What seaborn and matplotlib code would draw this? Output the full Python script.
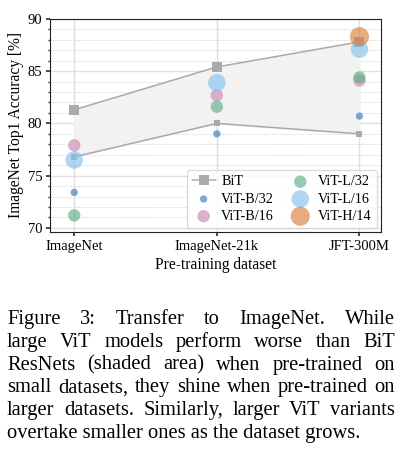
import matplotlib.pyplot as plt
import matplotlib.ticker as mticker
import pandas as pd
import seaborn as sns

datasets = ["ImageNet", "ImageNet-21k", "JFT-300M"]
bit_upper = [81.3, 85.4, 87.8]
bit_lower = [76.8, 80.0, 79.0]

models = ["ViT-B/32", "ViT-B/16", "ViT-L/32", "ViT-L/16", "ViT-H/14"]
vit_b32 = [73.4, 79.0, 80.7]
vit_b16 = [77.9, 82.7, 84.1]
vit_l32 = [71.2, 81.6, 84.4]
vit_l16 = [76.5, 83.9, 87.1]
vit_h14 = [None, None, 88.3]

colors = ["#3a7bbf", "#cc88b0", "#5fb085", "#86c1ee", "#d98040"]
sizes = [28, 80, 80, 160, 190]

caption = [
    "Figure 3:  Transfer to ImageNet.   While",
    "large ViT models perform worse than BiT",
    "ResNets (shaded area) when pre-trained on",
    "small datasets, they shine when pre-trained on",
    "larger datasets.  Similarly, larger ViT variants",
    "overtake smaller ones as the dataset grows.",
]

sns.set_theme(style="white")
plt.rcParams["font.family"] = ["Liberation Serif", "DejaVu Serif"]
for key in ["text.color", "axes.labelcolor", "xtick.color", "ytick.color"]:
    plt.rcParams[key] = "black"

rows = []
for m, vals in zip(models, [vit_b32, vit_b16, vit_l32, vit_l16, vit_h14]):
    for i, v in enumerate(vals):
        if v is not None:
            rows.append({"model": m, "x": i, "acc": v})
df = pd.DataFrame(rows)
bit = pd.DataFrame({"x": range(3), "upper": bit_upper, "lower": bit_lower})

fig = plt.figure(figsize=(4.03, 4.49), dpi=100)
ax = fig.add_axes([0.124, 0.483, 0.821, 0.475])

ax.fill_between(bit["x"], bit["lower"], bit["upper"], color="#f2f2f2", zorder=1)
sns.lineplot(data=bit, x="x", y="upper", ax=ax, color="#aaaaaa", marker="s",
             markersize=7, markeredgewidth=0, linewidth=1.1, label="BiT", zorder=3)
sns.lineplot(data=bit, x="x", y="lower", ax=ax, color="#aaaaaa", marker="s",
             markersize=5, markeredgewidth=0, linewidth=1.1, zorder=3)

for m, c, s in zip(models, colors, sizes):
    sub = df[df["model"] == m]
    sns.scatterplot(data=sub, x="x", y="acc", ax=ax, color=c, s=s, alpha=0.65,
                    edgecolor="none", label=m, zorder=4)

ax.set_xlim(-0.17, 2.15)
ax.set_ylim(69.6, 90)
ax.set_xticks(range(3))
ax.set_xticklabels(datasets)
ax.set_yticks([70, 75, 80, 85, 90])
ax.yaxis.set_minor_locator(mticker.MultipleLocator(1))
ax.tick_params(axis="both", labelsize=10.5, length=3, left=True, bottom=True,
               color="#333333", pad=2.5)
ax.tick_params(axis="y", which="minor", length=1.8, left=True, color="#333333")
ax.grid(True, which="major", color="#e0e0e0", linewidth=1.0, zorder=0)
ax.grid(True, which="minor", axis="y", color="#cccccc", linestyle=":", linewidth=0.7, zorder=0)
ax.set_axisbelow(True)
for sp in ax.spines.values():
    sp.set_color("#222222")
    sp.set_linewidth(0.8)

ax.set_xlabel("Pre-training dataset", fontsize=11.2, labelpad=3)
ax.set_ylabel("ImageNet Top1 Accuracy [%]", fontsize=11.2, labelpad=3)

leg = ax.legend(loc="lower right", ncol=2, fontsize=10.2, frameon=True,
                handletextpad=0.4, columnspacing=1.0, labelspacing=0.3,
                borderpad=0.35, handlelength=1.7, borderaxespad=0.3)
leg.get_frame().set_edgecolor("#cccccc")
leg.get_frame().set_linewidth(0.8)

# caption, justified line by line
fig.canvas.draw()
renderer = fig.canvas.get_renderer()
left_px, right_px = 7, 395
W, H = fig.get_size_inches() * fig.dpi
y0 = 324
for li, line in enumerate(caption):
    y = 1 - (y0 + li * 22.8) / H
    words = line.split()
    if li == len(caption) - 1:
        fig.text(left_px / W, y, line, fontsize=14.8, va="baseline", ha="left")
        continue
    texts = [fig.text(0, y, w, fontsize=14.8, va="baseline", ha="left") for w in words]
    widths = [t.get_window_extent(renderer).width for t in texts]
    gap = (right_px - left_px - sum(widths)) / (len(words) - 1)
    xpos = left_px
    for t, wd in zip(texts, widths):
        t.set_x(xpos / W)
        xpos += wd + gap

fig.savefig("out.png", dpi=100)
